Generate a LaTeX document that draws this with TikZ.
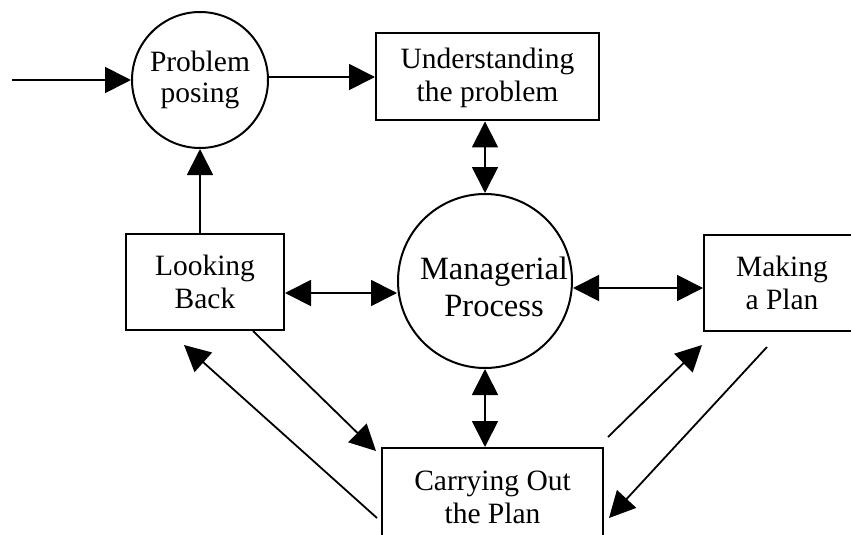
\documentclass[tikz,border=0pt]{standalone}
\usepackage{fontspec}
\setmainfont{Liberation Serif}
\usepackage{tikz}
\usetikzlibrary{arrows.meta}
\tikzset{
    box/.style={draw, rectangle, align=center, line width=2pt,
        font=\fontsize{29.5}{33}\selectfont},
    bubble/.style={draw, circle, align=center, line width=2pt,
        font=\fontsize{29.5}{31}\selectfont},
    arr/.style={-{Triangle[length=26pt, width=26pt]}, line width=1.8pt},
    dbl/.style={{Triangle[length=26pt, width=26pt]}-{Triangle[length=26pt, width=26pt]}, line width=1.8pt},
}
\begin{document}
\begin{tikzpicture}[x=1pt, y=-1pt]
\useasboundingbox (0,0) rectangle (851,535);
\clip (0,0) rectangle (851,535);
\node[bubble, minimum size=136pt] (pose) at (200,80) {Problem\\posing};
\node[box, anchor=north, minimum width=223pt, text depth=3pt, inner ysep=15.5pt] (under) at (487.5,32) {Understanding\\the problem};
\node[bubble, minimum size=174pt] (manage) at (485,281) {};
\node[align=center, font=\fontsize{32.5}{37}\selectfont] (managetext) at (494,287) {Managerial\\Process};
\node[box, minimum width=158pt, minimum height=96pt] (look) at (205,282) {Looking\\Back};
\node[box, anchor=north west, minimum width=156pt, minimum height=96pt] (plan) at (703,234) {Making\\a Plan};
\node[box, anchor=north, minimum width=221pt, text depth=45pt, inner ysep=23pt] (carry) at (492.5,447) {Carrying Out\\the Plan};
\coordinate (in) at (12,80);

\draw[arr] (in) -- (pose);
\draw[arr] ([yshift=3pt]pose.east) -- ([yshift=3pt]pose.east -| under.west);
\draw[dbl] (under.south -| manage) -- (manage.north);
\draw[arr] (look.north -| pose) -- (pose.south);
\draw[dbl] ([yshift=-11pt]look.east) -- ([yshift=-11pt]look.east -| manage.west);
\draw[dbl] ([yshift=-7pt]manage.east) -- ([yshift=-7pt]manage.east -| plan.west);
\draw[dbl] (manage.south) -- (manage.south |- carry.north);

\draw[arr] ([xshift=-32pt]look.south east) -- ([shift={(-5pt,-4pt)}]carry.north west);
\draw[arr] ([shift={(-4pt,-71pt)}]carry.north west) -- ([shift={(59pt,-14pt)}]look.south west);
\draw[arr] ([shift={(4pt,10pt)}]carry.north east) -- ([shift={(-1pt,-13pt)}]plan.south west);
\draw[arr] ([shift={(64pt,-15pt)}]plan.south west) -- ([shift={(5pt,-71pt)}]carry.north east);
\end{tikzpicture}
\end{document}
